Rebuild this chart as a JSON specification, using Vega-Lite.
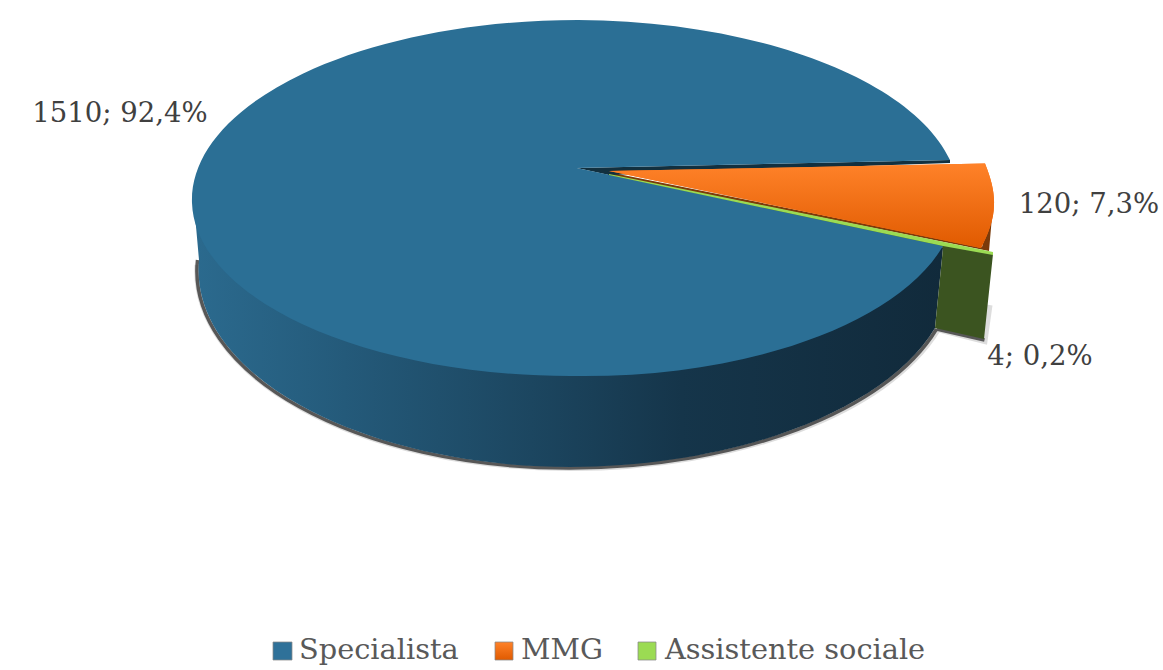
{
  "$schema": "https://vega.github.io/schema/vega-lite/v6.json",
  "width": 1163,
  "height": 670,
  "autosize": "none",
  "padding": 0,
  "background": "white",
  "view": {"stroke": null},
  "data": {"values": [
    {"category": "Specialista", "value": 1510, "pct": 92.4, "label": "1510; 92,4%"},
    {"category": "MMG", "value": 120, "pct": 7.3, "label": "120; 7,3%"},
    {"category": "Assistente sociale", "value": 4, "pct": 0.2, "label": "4; 0,2%"}
  ]},
  "config": {"font": "DejaVu Serif"},
  "layer": [
    {
      "transform": [{"filter": {"field": "category", "equal": "Specialista"}}],
      "mark": {"type": "point", "size": 4, "filled": false, "fill": null, "stroke": "#404040", "strokeWidth": 6, "opacity": 0.18, "shape": "M-384 -70 A372 197 0 0 0 -11.5 133 A385 197 0 0 0 356 -5 M356 -6 L403 6 L408 -30"}
    },
    {
      "transform": [{"filter": {"field": "category", "equal": "Specialista"}}],
      "mark": {"type": "point", "size": 4, "filled": false, "fill": null, "stroke": "#404040", "strokeWidth": 3.5, "opacity": 0.85, "shape": "M-384 -75 A372 197 0 0 0 -11.5 133 A385 197 0 0 0 355 -6 M355 -6 L403 5"}
    },
    {
      "transform": [{"filter": {"field": "category", "equal": "Specialista"}}],
      "mark": {"type": "point", "size": 4, "filled": true, "opacity": 1, "strokeWidth": 0,
        "fill": {"gradient": "linear", "x1": 0, "y1": 0, "x2": 1, "y2": 0, "stops": [
          {"offset": 0, "color": "#2B6A8E"},
          {"offset": 0.2, "color": "#245A7A"},
          {"offset": 0.45, "color": "#1C4660"},
          {"offset": 0.65, "color": "#15354A"},
          {"offset": 1, "color": "#112A3B"}
        ]},
        "shape": "M-386.5 -120 L-382.5 -75 A372 197 0 0 0 -11.5 132 A385 197 0 0 0 353.5 -7 L361.5 -87 L-3.5 -135 Z"}
    },
    {
      "transform": [{"filter": {"field": "category", "equal": "Assistente sociale"}}],
      "mark": {"type": "point", "size": 4, "filled": true, "opacity": 1, "strokeWidth": 0, "fill": "#3B5420",
        "shape": "M27 -161 L411.5 -81 L402.5 4 L353.5 -7 L361.5 -87 L27 -158.5 Z"}
    },
    {
      "transform": [{"filter": {"field": "category", "equal": "MMG"}}],
      "mark": {"type": "point", "size": 4, "filled": true, "opacity": 1, "strokeWidth": 0, "fill": "#7A3A0A",
        "shape": "M26.5 -163 L400.5 -88 L411.5 -130 L407.5 -84 L26.5 -160 Z"}
    },
    {
      "transform": [{"filter": {"field": "category", "equal": "Specialista"}}],
      "mark": {"type": "point", "size": 4, "filled": true, "opacity": 1, "strokeWidth": 0, "fill": "#12303F",
        "shape": "M-4.5 -167 L368.5 -175 L368.5 -172 L27.5 -160 Z"}
    },
    {
      "mark": {"type": "point", "size": 4, "filled": true, "opacity": 1, "strokeWidth": 0},
      "encoding": {
        "shape": {
          "field": "category",
          "legend": null,
          "scale": {
            "domain": ["Specialista", "MMG", "Assistente sociale"],
            "range": [
              "M-4.5 -167 L368.5 -175 A386 178 0 0 0 -3.5 -315 A386 180 0 0 0 -389.5 -132 A380 176 0 0 0 -11.5 41 A373 178 0 0 0 361.5 -89 Z",
              "M27.5 -164 L403.5 -171.5 C410 -155 413 -143 412.5 -130 C412.5 -115 406 -100 399.5 -87 Z",
              "M27.5 -161 L411.5 -83 L411.5 -80 L361.5 -89 L27.5 -160 Z"
            ]
          }
        },
        "fill": {
          "field": "category",
          "legend": null,
          "scale": {
            "domain": ["Specialista", "MMG", "Assistente sociale"],
            "range": ["#2B6F95", "#F6731A", "#9BDB53"]
          }
        }
      }
    },
    {
      "transform": [{"filter": {"field": "category", "equal": "MMG"}}],
      "mark": {"type": "point", "size": 4, "filled": true, "opacity": 1, "strokeWidth": 0,
        "fill": {"gradient": "linear", "x1": 0, "y1": 0, "x2": 0, "y2": 1, "stops": [
          {"offset": 0, "color": "#FF8229"},
          {"offset": 1, "color": "#E05A00"}
        ]},
        "shape": "M27.5 -164 L403.5 -171.5 C410 -155 413 -143 412.5 -130 C412.5 -115 406 -100 399.5 -87 Z"}
    },
    {
      "transform": [{"filter": {"field": "category", "equal": "Specialista"}}],
      "mark": {"type": "text", "font": "DejaVu Serif", "fontSize": 27.5, "color": "#404040", "align": "center", "baseline": "middle", "dx": -461.5, "dy": -221},
      "encoding": {"text": {"field": "label"}}
    },
    {
      "transform": [{"filter": {"field": "category", "equal": "MMG"}}],
      "mark": {"type": "text", "font": "DejaVu Serif", "fontSize": 27.5, "color": "#404040", "align": "center", "baseline": "middle", "dx": 507.5, "dy": -130},
      "encoding": {"text": {"field": "label"}}
    },
    {
      "transform": [{"filter": {"field": "category", "equal": "Assistente sociale"}}],
      "mark": {"type": "text", "font": "DejaVu Serif", "fontSize": 27.5, "color": "#404040", "align": "center", "baseline": "middle", "dx": 458.5, "dy": 22},
      "encoding": {"text": {"field": "label"}}
    },
    {
      "transform": [{"filter": {"field": "category", "equal": "Specialista"}}],
      "mark": {"type": "point", "size": 4, "filled": true, "opacity": 1, "fill": "#2F7199", "stroke": "#8a8a8a", "strokeWidth": 0.75,
        "shape": "M-308.5 307 L-289.5 307 L-289.5 325 L-308.5 325 Z"}
    },
    {
      "transform": [{"filter": {"field": "category", "equal": "MMG"}}],
      "mark": {"type": "point", "size": 4, "filled": true, "opacity": 1, "stroke": "#8a8a8a", "strokeWidth": 0.75,
        "fill": {"gradient": "linear", "x1": 0, "y1": 0, "x2": 0, "y2": 1, "stops": [
          {"offset": 0, "color": "#FF8229"},
          {"offset": 1, "color": "#E05A00"}
        ]},
        "shape": "M-86.5 307 L-68.5 307 L-68.5 325 L-86.5 325 Z"}
    },
    {
      "transform": [{"filter": {"field": "category", "equal": "Assistente sociale"}}],
      "mark": {"type": "point", "size": 4, "filled": true, "opacity": 1, "fill": "#9BDB53", "stroke": "#8a8a8a", "strokeWidth": 0.75,
        "shape": "M56.5 307 L74.5 307 L74.5 325 L56.5 325 Z"}
    },
    {
      "transform": [{"filter": {"field": "category", "equal": "Specialista"}}],
      "mark": {"type": "text", "font": "DejaVu Serif", "fontSize": 28.8, "color": "#595959", "align": "left", "baseline": "middle", "dx": -282.5, "dy": 315},
      "encoding": {"text": {"field": "category"}}
    },
    {
      "transform": [{"filter": {"field": "category", "equal": "MMG"}}],
      "mark": {"type": "text", "font": "DejaVu Serif", "fontSize": 28.8, "color": "#595959", "align": "left", "baseline": "middle", "dx": -60.5, "dy": 315},
      "encoding": {"text": {"field": "category"}}
    },
    {
      "transform": [{"filter": {"field": "category", "equal": "Assistente sociale"}}],
      "mark": {"type": "text", "font": "DejaVu Serif", "fontSize": 28.8, "color": "#595959", "align": "left", "baseline": "middle", "dx": 83.5, "dy": 315},
      "encoding": {"text": {"field": "category"}}
    }
  ]
}
